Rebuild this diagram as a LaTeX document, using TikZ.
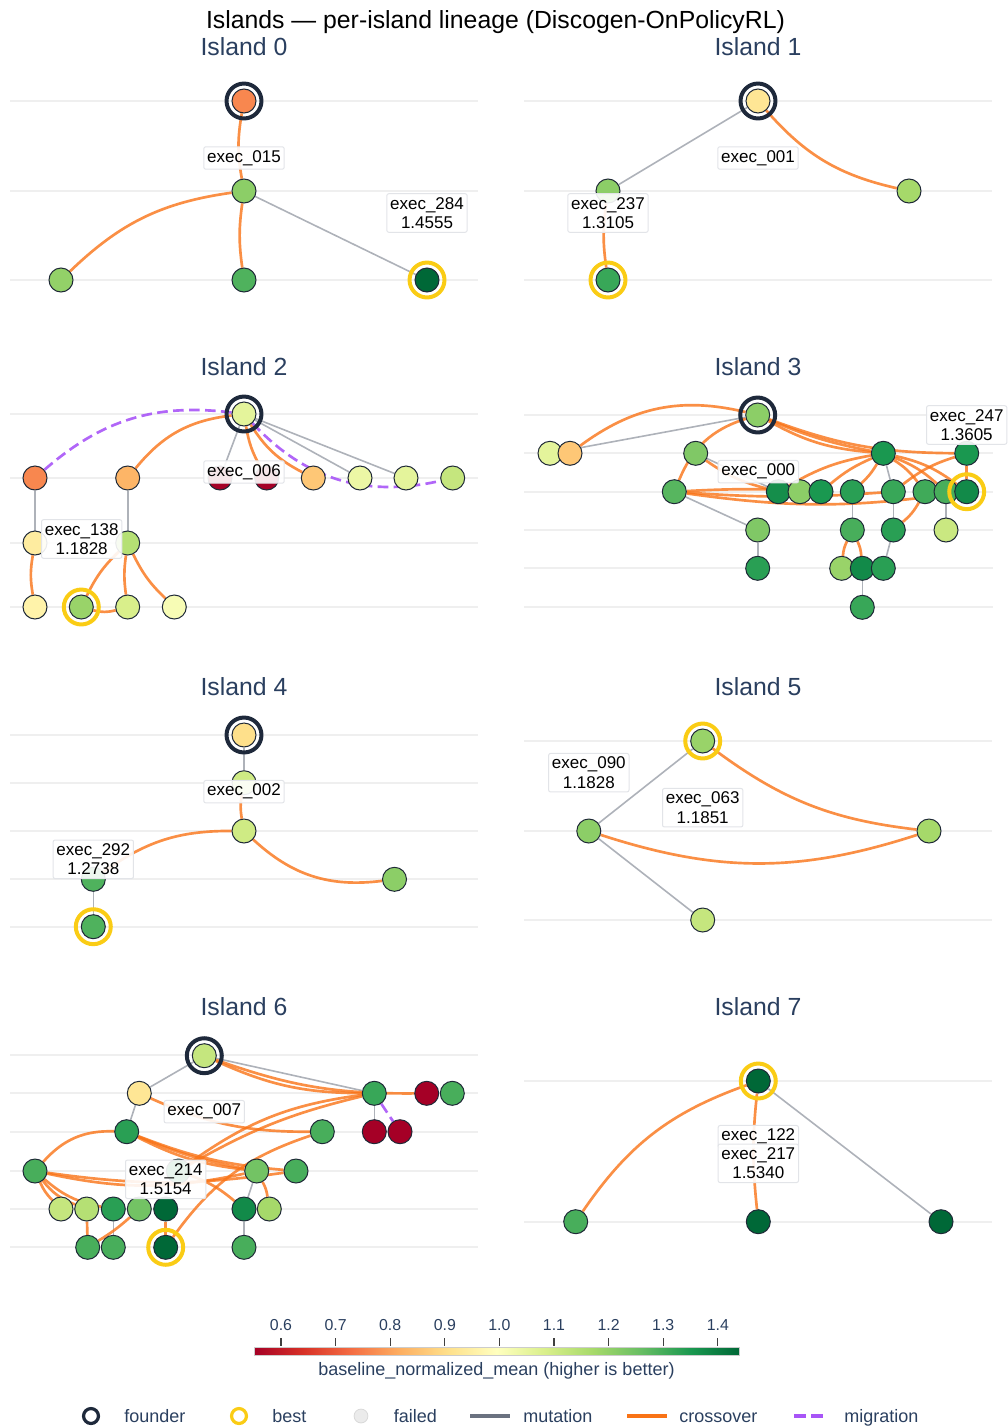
\documentclass[tikz,border=0pt]{standalone}
\usepackage{fontspec}
\setmainfont{Liberation Sans}
\usetikzlibrary{calc}

\definecolor{rg0}{HTML}{A50026}
\definecolor{rg1}{HTML}{D73027}
\definecolor{rg2}{HTML}{F46D43}
\definecolor{rg3}{HTML}{FDAE61}
\definecolor{rg4}{HTML}{FEE08B}
\definecolor{rg5}{HTML}{FFFFBF}
\definecolor{rg6}{HTML}{D9EF8B}
\definecolor{rg7}{HTML}{A6D96A}
\definecolor{rg8}{HTML}{66BD63}
\definecolor{rg9}{HTML}{1A9850}
\definecolor{rg10}{HTML}{006837}
\definecolor{founderc}{HTML}{1E293B}
\definecolor{bestc}{HTML}{FACC15}
\definecolor{xoc}{HTML}{F97316}
\definecolor{mutc}{HTML}{6B7280}
\definecolor{migc}{HTML}{A855F7}
\definecolor{nodeedge}{HTML}{1F2937}
\definecolor{tagline}{HTML}{E2E4E8}
\definecolor{gridc}{HTML}{EFEFEF}
\definecolor{ttlc}{HTML}{2A3F5F}

\pgfdeclarehorizontalshading{rdylgn}{100bp}{color(0bp)=(rg0); color(25bp)=(rg0); color(30bp)=(rg1); color(35bp)=(rg2); color(40bp)=(rg3); color(45bp)=(rg4); color(50bp)=(rg5); color(55bp)=(rg6); color(60bp)=(rg7); color(65bp)=(rg8); color(70bp)=(rg9); color(75bp)=(rg10); color(100bp)=(rg10)}

\pgfdeclarelayer{grid}
\pgfdeclarelayer{edges}
\pgfsetlayers{grid,edges,main}

\newcommand{\ttlfont}{\fontsize{18.6}{22}\selectfont}
\newcommand{\tagfont}{\fontsize{12.75}{14.5}\selectfont}
\newcommand{\tickfont}{\fontsize{11.9}{14}\selectfont}
\newcommand{\legfont}{\fontsize{13.5}{16}\selectfont}

\tikzset{cand/.style = {shape=circle,draw=nodeedge,line width=0.75pt,minimum size=18pt,inner sep=0pt}}
\tikzset{mut/.style = {draw=mutc,line width=1.2pt,draw opacity=0.55}}
\tikzset{xover/.style = {draw=xoc,line width=2pt,draw opacity=0.8}}
\tikzset{migr/.style = {draw=migc,line width=2pt,dash pattern=on 8pt off 4pt,draw opacity=0.9}}
\tikzset{fring/.style = {draw=founderc,line width=3pt}}
\tikzset{bring/.style = {draw=bestc,line width=3pt}}
\tikzset{tag/.style = {fill=white,fill opacity=0.9,text opacity=1,draw=tagline,line width=0.75pt,rounded corners=1.5pt,inner xsep=2.5pt,inner ysep=2.7pt,font=\tagfont,align=center}}
\tikzset{gridline/.style = {draw=gridc,line width=1.1pt}}
\tikzset{ttl/.style = {font=\ttlfont,text=ttlc,anchor=base}}
\tikzset{legtext/.style = {font=\legfont,text=ttlc,anchor=base west,inner sep=0pt}}

\begin{document}
\begin{tikzpicture}[x=0.75pt,y=-0.75pt]
            \useasboundingbox (0,0) rectangle (1007,1428);

            % Titles
            \node[anchor=base,font=\ttlfont,text=black] (title) at (495.5,28.3) {Islands — per-island lineage (Discogen-OnPolicyRL)};
            \node[ttl] (t0) at (244,55) {Island 0};
            \node[ttl] (t1) at (758,55) {Island 1};
            \node[ttl] (t2) at (244,375) {Island 2};
            \node[ttl] (t3) at (758,375) {Island 3};
            \node[ttl] (t4) at (244,695) {Island 4};
            \node[ttl] (t5) at (758,695) {Island 5};
            \node[ttl] (t6) at (244,1015) {Island 6};
            \node[ttl] (t7) at (758,1015) {Island 7};

            % Grid lines
            \begin{pgfonlayer}{grid}
            \foreach \yy in {101,191,280} {\draw[gridline] (10,\yy) -- (478,\yy); \draw[gridline] (524,\yy) -- (992,\yy);}
            \foreach \yy in {414,478,543,607} \draw[gridline] (10,\yy) -- (478,\yy);
            \foreach \yy in {415,453,492,530,568,607} \draw[gridline] (524,\yy) -- (993,\yy);
            \foreach \yy in {735,783,831,879,927} \draw[gridline] (10,\yy) -- (478,\yy);
            \foreach \yy in {741,831,920} \draw[gridline] (524,\yy) -- (992,\yy);
            \foreach \yy in {1055,1093,1132,1171,1209,1247} \draw[gridline] (10,\yy) -- (478,\yy);
            \foreach \yy in {1081,1222} \draw[gridline] (524,\yy) -- (992,\yy);
            \end{pgfonlayer}

            % Island 0
            \node[cand,fill=rg2!60!rg3] (i0a) at (244,101) {};
            \node[cand,fill=rg7!60!rg8] (i0b) at (244,191) {};
            \node[cand,fill=rg7!70!rg8] (i0c) at (61,280) {};
            \node[cand,fill=rg8!70!rg9] (i0d) at (244,280) {};
            \node[cand,fill=rg10] (i0e) at (427,280) {};

            % Island 1
            \node[cand,fill=rg4!80!rg5] (i1a) at (758,101) {};
            \node[cand,fill=rg7!60!rg8] (i1b) at (608,191) {};
            \node[cand,fill=rg7] (i1c) at (909,191) {};
            \node[cand,fill=rg9!60!rg8] (i1d) at (608,280) {};

            % Island 2
            \node[cand,fill=rg6!70!rg5] (i2a) at (244,414) {};
            \node[cand,fill=rg2!60!rg3] (i2b) at (35,478) {};
            \node[cand,fill=rg3!85!rg4] (i2c) at (127.7,478) {};
            \node[cand,fill=rg0] (i2d) at (220,478) {};
            \node[cand,fill=rg0] (i2e) at (266.7,478) {};
            \node[cand,fill=rg3!50!rg4] (i2f) at (313.3,478) {};
            \node[cand,fill=rg5!50!rg6] (i2g) at (360,478) {};
            \node[cand,fill=rg6!70!rg5] (i2h) at (406,478) {};
            \node[cand,fill=rg6!60!rg7] (i2i) at (452.7,478) {};
            \node[cand,fill=rg4!60!rg5] (i2j) at (35,543) {};
            \node[cand,fill=rg7!70!rg6] (i2k) at (127.7,543) {};
            \node[cand,fill=rg5!60!rg4] (i2l) at (35,607) {};
            \node[cand,fill=rg7!80!rg8] (i2m) at (81.3,607) {};
            \node[cand,fill=rg6] (i2n) at (127.7,607) {};
            \node[cand,fill=rg5!80!rg6] (i2o) at (174.3,607) {};

            % Island 3
            \node[cand,fill=rg7!60!rg8] (i3a) at (757.7,415) {};
            \node[cand,fill=rg6!70!rg5] (i3b) at (550,453.3) {};
            \node[cand,fill=rg3!50!rg4] (i3c) at (570,453.3) {};
            \node[cand,fill=rg8!60!rg7] (i3d) at (695.7,453.3) {};
            \node[cand,fill=rg9] (i3e) at (883.3,453.3) {};
            \node[cand,fill=rg9] (i3f) at (966.7,453.3) {};
            \node[cand,fill=rg8!80!rg9] (i3g) at (674.3,491.7) {};
            \node[cand,fill=rg9!80!rg10] (i3h) at (778.3,491.7) {};
            \node[cand,fill=rg7!60!rg8] (i3i) at (800,491.7) {};
            \node[cand,fill=rg9] (i3j) at (821,491.7) {};
            \node[cand,fill=rg9!80!rg8] (i3k) at (852.3,491.7) {};
            \node[cand,fill=rg9!60!rg8] (i3l) at (893.3,491.7) {};
            \node[cand,fill=rg9!50!rg8] (i3m) at (925,491.7) {};
            \node[cand,fill=rg8!60!rg9] (i3n) at (946,491.7) {};
            \node[cand,fill=rg9!70!rg10] (i3o) at (966.7,491.7) {};
            \node[cand,fill=rg8!60!rg7] (i3p) at (757.7,530) {};
            \node[cand,fill=rg9!40!rg8] (i3q) at (852.3,530) {};
            \node[cand,fill=rg9!80!rg8] (i3r) at (893.3,530) {};
            \node[cand,fill=rg6!70!rg7] (i3s) at (946,530) {};
            \node[cand,fill=rg9!80!rg8] (i3t) at (757.7,568.3) {};
            \node[cand,fill=rg7!80!rg8] (i3u) at (841.7,568.3) {};
            \node[cand,fill=rg9!70!rg10] (i3v) at (862.3,568.3) {};
            \node[cand,fill=rg9!80!rg8] (i3w) at (883.3,568.3) {};
            \node[cand,fill=rg9!60!rg8] (i3x) at (862.3,607.3) {};

            % Island 4
            \node[cand,fill=rg4] (i4a) at (244,735) {};
            \node[cand,fill=rg6!80!rg7] (i4b) at (244,782.7) {};
            \node[cand,fill=rg6!80!rg7] (i4c) at (244,831) {};
            \node[cand,fill=rg8!70!rg9] (i4d) at (93.3,879.3) {};
            \node[cand,fill=rg7!60!rg8] (i4e) at (394.5,879.3) {};
            \node[cand,fill=rg8!70!rg9] (i4f) at (93.3,926.7) {};

            % Island 5
            \node[cand,fill=rg7!80!rg8] (i5a) at (702.7,741) {};
            \node[cand,fill=rg7!60!rg8] (i5b) at (588.8,831) {};
            \node[cand,fill=rg7] (i5c) at (929,831) {};
            \node[cand,fill=rg6!60!rg7] (i5d) at (702.7,920) {};

            % Island 6
            \node[cand,fill=rg6!60!rg7] (i6a) at (204.3,1055.7) {};
            \node[cand,fill=rg4!80!rg5] (i6b) at (139.3,1093.3) {};
            \node[cand,fill=rg9!60!rg8] (i6c) at (374.3,1093.3) {};
            \node[cand,fill=rg0] (i6d) at (426.7,1093.3) {};
            \node[cand,fill=rg9!40!rg8] (i6e) at (452.3,1093.3) {};
            \node[cand,fill=rg9!80!rg8] (i6f) at (126.7,1131.7) {};
            \node[cand,fill=rg9!40!rg8] (i6g) at (322.3,1131.7) {};
            \node[cand,fill=rg0] (i6h) at (374.3,1131.7) {};
            \node[cand,fill=rg0] (i6i) at (400,1131.7) {};
            \node[cand,fill=rg8!60!rg9] (i6j) at (35,1171) {};
            \node[cand,fill=rg9] (i6k) at (178.3,1171) {};
            \node[cand,fill=rg8!80!rg7] (i6l) at (256.7,1171) {};
            \node[cand,fill=rg9!40!rg8] (i6m) at (296,1171) {};
            \node[cand,fill=rg6!60!rg7] (i6n) at (61,1209) {};
            \node[cand,fill=rg7!70!rg6] (i6o) at (86.7,1209) {};
            \node[cand,fill=rg9!80!rg8] (i6p) at (113.3,1209) {};
            \node[cand,fill=rg8!80!rg7] (i6q) at (139.3,1209) {};
            \node[cand,fill=rg10] (i6r) at (165.7,1209) {};
            \node[cand,fill=rg9!70!rg10] (i6s) at (244,1209) {};
            \node[cand,fill=rg7] (i6t) at (269.3,1209) {};
            \node[cand,fill=rg9!40!rg8] (i6u) at (87.7,1247.3) {};
            \node[cand,fill=rg9!40!rg8] (i6v) at (113.3,1247.3) {};
            \node[cand,fill=rg10] (i6w) at (165.7,1247.3) {};
            \node[cand,fill=rg9!40!rg8] (i6x) at (244,1247.3) {};

            % Island 7
            \node[cand,fill=rg10] (i7a) at (758.3,1081) {};
            \node[cand,fill=rg9!40!rg8] (i7b) at (575.7,1221.7) {};
            \node[cand,fill=rg10] (i7c) at (758.3,1221.7) {};
            \node[cand,fill=rg10] (i7d) at (941,1221.7) {};

            % Edges
            \begin{pgfonlayer}{edges}
            % island 0
            \draw[xover] (i0a) to[bend right=10] (i0b);
            \draw[xover] (i0b) to[bend right=18] (i0c);
            \draw[xover] (i0b) to[bend right=8] (i0d);
            \draw[mut] (i0b) -- (i0e);

            % island 1
            \draw[mut] (i1a) -- (i1b);
            \draw[xover] (i1a) to[bend right=18] (i1c);
            \draw[xover] (i1b) to[bend right=8] (i1d);

            % island 2
            \draw[migr] (i2a) to[bend right=24] (i2b);
            \draw[xover] (i2a) to[bend right=22] (i2c);
            \draw[mut] (i2a) -- (i2d);
            \draw[xover] (i2a) to[bend right=10] (i2e);
            \draw[xover] (i2a) to[bend right=15] (i2f);
            \draw[mut] (i2a) -- (i2g);
            \draw[mut] (i2a) -- (i2h);
            \draw[migr] (i2a) to[bend right=30] (i2i);
            \draw[mut] (i2b) -- (i2j);
            \draw[mut] (i2c) -- (i2k);
            \draw[xover] (i2j) to[bend right=10] (i2l);
            \draw[xover] (i2k) to[bend right=10] (i2m);
            \draw[xover] (i2m) to[bend right=15] (i2n);
            \draw[xover] (i2k) to[bend right=8] (i2n);
            \draw[xover] (i2k) to[bend right=10] (i2o);

            % island 3
            \draw[mut] (i3a) -- (i3b);
            \draw[xover] (i3a) to[bend right=25] (i3c);
            \draw[xover] (i3a) to[bend right=25] (i3g);
            \draw[mut] (i3d) -- (i3h);
            \draw[xover] (i3d) to[bend right=10] (i3h);
            \draw[xover] (i3a) to[bend right=6] (i3e);
            \draw[xover] (i3a) to[bend right=12] (i3e);
            \draw[xover] (i3a) to[bend right=10] (i3f);
            \draw[xover] (i3e) to[bend right=10] (i3h);
            \draw[xover] (i3e) to[bend right=8] (i3j);
            \draw[xover] (i3e) to[bend left=8] (i3k);
            \draw[mut] (i3e) -- (i3l);
            \draw[xover] (i3e) to[bend left=10] (i3m);
            \draw[xover] (i3e) to[bend left=10] (i3n);
            \draw[xover] (i3e) to[bend left=12] (i3o);
            \draw[xover] (i3f) -- (i3o);
            \draw[xover] (i3f) to[bend right=10] (i3l);
            \draw[xover] (i3g) to[bend left=3] (i3j);
            \draw[xover] (i3g) to[bend right=4] (i3l);
            \draw[xover] (i3g) to[bend right=8] (i3o);
            \draw[mut] (i3g) -- (i3p);
            \draw[mut] (i3p) -- (i3t);
            \draw[mut] (i3k) -- (i3q);
            \draw[mut] (i3l) -- (i3r);
            \draw[mut] (i3n) -- (i3s);
            \draw[xover] (i3q) to[bend right=10] (i3u);
            \draw[xover] (i3q) to[bend left=10] (i3v);
            \draw[mut] (i3r) -- (i3w);
            \draw[xover] (i3r) to[bend right=10] (i3m);
            \draw[mut] (i3v) -- (i3x);

            % island 4
            \draw[mut] (i4a) -- (i4b);
            \draw[xover] (i4b) to[bend right=10] (i4c);
            \draw[xover] (i4c) to[bend right=18] (i4d);
            \draw[xover] (i4c) to[bend right=25] (i4e);
            \draw[mut] (i4d) -- (i4f);

            % island 5
            \draw[mut] (i5a) -- (i5b);
            \draw[xover] (i5a) to[bend right=15] (i5c);
            \draw[xover] (i5b) to[bend right=18] (i5c);
            \draw[mut] (i5b) -- (i5d);

            % island 6
            \draw[mut] (i6a) -- (i6b);
            \draw[mut] (i6a) -- (i6c);
            \draw[xover] (i6a) to[bend right=12] (i6c);
            \draw[xover] (i6a) to[bend right=10] (i6d);
            \draw[mut] (i6b) -- (i6f);
            \draw[xover] (i6b) to[bend right=12] (i6g);
            \draw[xover] (i6f) to[bend right=25] (i6j);
            \draw[xover] (i6f) to[bend right=10] (i6l);
            \draw[xover] (i6f) to[bend right=6] (i6l);
            \draw[xover] (i6f) to[bend right=8] (i6m);
            \draw[xover] (i6j) to[bend right=12] (i6l);
            \draw[xover] (i6j) to[bend right=8] (i6m);
            \draw[xover] (i6j) to[bend right=10] (i6n);
            \draw[xover] (i6j) to[bend right=15] (i6o);
            \draw[xover] (i6j) to[bend right=15] (i6p);
            \draw[mut] (i6c) -- (i6h);
            \draw[migr] (i6c) -- (i6i);
            \draw[xover] (i6c) to[bend right=8] (i6k);
            \draw[xover] (i6c) to[bend right=14] (i6k);
            \draw[xover] (i6w) to[bend left=18] (i6g);
            \draw[mut] (i6l) -- (i6s);
            \draw[xover] (i6l) to[bend left=10] (i6t);
            \draw[mut] (i6s) -- (i6x);
            \draw[xover] (i6r) -- (i6w);
            \draw[mut] (i6p) -- (i6v);
            \draw[xover] (i6o) -- (i6u);
            \draw[xover] (i6q) to[bend left=5] (i6u);
            \draw[xover] (i6k) to[bend left=10] (i6s);

            % island 7
            \draw[xover] (i7a) to[bend right=18] (i7b);
            \draw[xover] (i7a) to[bend right=6] (i7c);
            \draw[mut] (i7a) -- (i7d);
            \end{pgfonlayer}

            % Founder and best rings
            \foreach \f in {i0a,i1a,i2a,i3a,i4a,i6a} \draw[fring] (\f) circle[radius=13.1pt];
            \foreach \b in {i0e,i1d,i2m,i3o,i4f,i5a,i6w,i7a} \draw[bring] (\b) circle[radius=13.1pt];

            % Labels
            \node[tag] (l0a) at (244,158) {exec\_015};
            \node[tag] (l0b) at (427,213) {exec\_284\\1.4555};
            \node[tag] (l1a) at (758,158) {exec\_001};
            \node[tag] (l1b) at (608,213) {exec\_237\\1.3105};
            \node[tag] (l2a) at (244,472) {exec\_006};
            \node[tag] (l2b) at (81.7,539) {exec\_138\\1.1828};
            \node[tag] (l3a) at (758.3,471.7) {exec\_000};
            \node[tag] (l3b) at (966.7,425) {exec\_247\\1.3605};
            \node[tag] (l4a) at (244,791.7) {exec\_002};
            \node[tag] (l4b) at (93.3,859.3) {exec\_292\\1.2738};
            \node[tag] (l5a) at (588.8,772.7) {exec\_090\\1.1828};
            \node[tag] (l5b) at (702.7,807.7) {exec\_063\\1.1851};
            \node[tag] (l6a) at (204.3,1111.7) {exec\_007};
            \node[tag] (l6b) at (165.7,1179.3) {exec\_214\\1.5154};
            \node[tag] (l7a) at (758.3,1136.7) {exec\_122};
            \node[tag] (l7b) at (758.3,1163.3) {exec\_217\\1.5340};

            % Colour bar
            \shade[shading=rdylgn] (254,1347) rectangle (739,1355);
            \draw[draw=black!20,line width=0.6pt] (254,1347) rectangle (739,1355);
            \foreach \lab [count=\k from 0] in {0.6,0.7,0.8,0.9,1.0,1.1,1.2,1.3,1.4} {
                \draw[black!75,line width=0.9pt] (281+54.6*\k,1338) -- (281+54.6*\k,1346);
                \node[anchor=base,font=\tickfont,text=ttlc] (tk\k) at (281+54.6*\k,1330) {\lab};
            }
            \node[anchor=base,font=\legfont,text=ttlc] (cbt) at (496.5,1375) {baseline\_normalized\_mean (higher is better)};

            % Legend
            \coordinate (lf) at (91,1416);
            \coordinate (lb) at (239,1416);
            \coordinate (lx) at (361,1416);
            \draw[fring,line width=2.4pt] (lf) circle[radius=5.6pt];
            \draw[bring,line width=2.4pt] (lb) circle[radius=5.6pt];
            \draw[draw=black!15,fill=black!8,line width=0.6pt] (lx) circle[radius=5.2pt];
            \coordinate (m1) at (470,1416);
            \coordinate (m2) at (510,1416);
            \coordinate (c1) at (627,1416);
            \coordinate (c2) at (667,1416);
            \coordinate (g1) at (794,1416);
            \coordinate (g2) at (827,1416);
            \draw[draw=mutc,line width=2.3pt] (m1) -- (m2);
            \draw[draw=xoc,line width=2.3pt] (c1) -- (c2);
            \draw[draw=migc,line width=2.3pt,dash pattern=on 9pt off 4pt] (g1) -- (g2);
            \node[legtext] (lt1) at (124,1422) {founder};
            \node[legtext] (lt2) at (272,1422) {best};
            \node[legtext] (lt3) at (393.5,1422) {failed};
            \node[legtext] (lt4) at (523,1422) {mutation};
            \node[legtext] (lt5) at (679,1422) {crossover};
            \node[legtext] (lt6) at (844,1422) {migration};
        \end{tikzpicture}
\end{document}
